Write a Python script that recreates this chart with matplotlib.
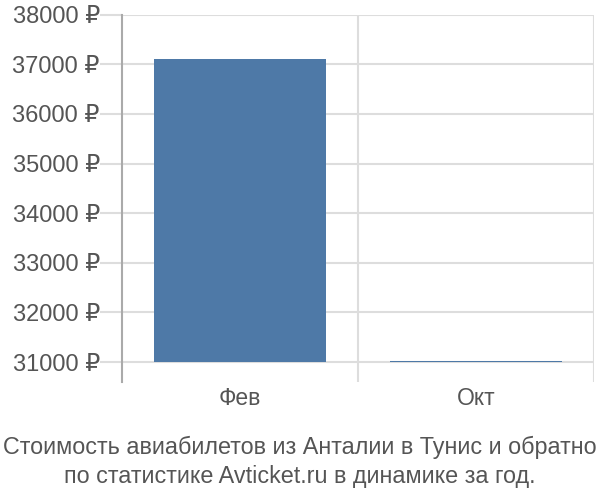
import matplotlib
matplotlib.use("Agg")
import matplotlib.pyplot as plt
import numpy as np

categories = ["Фев", "Окт"]
values = [37100, 31025]
baseline = 31000
yticks = [31000, 32000, 33000, 34000, 35000, 36000, 37000, 38000]
ytick_labels = [f"{v} ₽" for v in yticks]
title_lines = ["Стоимость авиабилетов из Анталии в Тунис и обратно",
               "по статистике Avticket.ru в динамике за год."]

plt.rcParams['font.family'] = ['Liberation Sans', 'DejaVu Sans']

fig = plt.figure(figsize=(6, 5), dpi=100)
ax = fig.add_axes([122/600, 1-381.5/500, (594-122)/600, (381.5-14.7)/500])

x = np.arange(len(categories))
heights = [v - baseline for v in values]
ax.bar(x, heights, bottom=baseline, width=0.725, color='#4e79a7', zorder=3)

ax.set_xlim(-0.5, len(categories) - 0.5)
ax.set_ylim(30607, 38000)
ax.set_yticks(yticks)
ax.set_yticklabels(ytick_labels)
ax.set_xticks(x)
ax.set_xticklabels(categories)
ax.set_xticks(np.arange(len(categories)) + 0.5, minor=True)

ax.grid(axis='y', which='major', color='#dddddd', linewidth=1.5, zorder=0)
ax.grid(axis='x', which='minor', color='#dddddd', linewidth=1.5, zorder=0)
ax.tick_params(axis='y', length=16, width=1.5, color='#dddddd', labelsize=17, labelcolor='#555555', pad=0)
ax.tick_params(axis='x', which='major', length=0, labelsize=16.5, labelcolor='#555555', pad=4)
ax.tick_params(axis='x', which='minor', length=0)

for s in ['top', 'right', 'bottom']:
    ax.spines[s].set_visible(False)
ax.spines['left'].set_color('#aaaaaa')
ax.spines['left'].set_linewidth(1.5)

for i, line in enumerate(title_lines):
    fig.text(0.5, 1 - (454 + 29 * i) / 500, line, ha='center', va='baseline',
             fontsize=16.8, color='#555555')

fig.savefig('out.png', dpi=100)
